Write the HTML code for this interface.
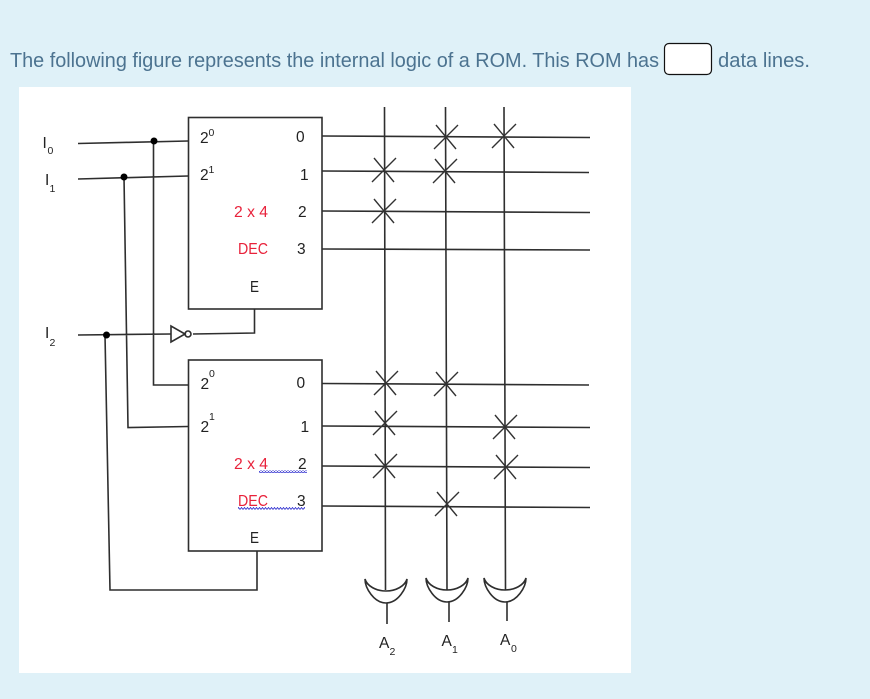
<!DOCTYPE html>
<html><head><meta charset="utf-8"><style>
html,body{margin:0;padding:0;width:870px;height:699px;overflow:hidden;background:#dff1f8}
svg{display:block}
.d text{font-family:"Liberation Sans",sans-serif;font-size:15.5px;fill:#222}
.d .r{fill:#e8213a}
.d .s{font-size:10.5px}
.l{fill:none;stroke:#2e2e2e;stroke-width:1.6}
.x{fill:none;stroke:#333;stroke-width:1.4}
.t{font-family:"Liberation Sans",sans-serif;font-size:20.5px;fill:#4c7390}
</style></head><body>
<svg width="870" height="699" viewBox="0 0 870 699" xmlns="http://www.w3.org/2000/svg">
<defs>
<pattern id="z" width="3" height="3" patternUnits="userSpaceOnUse"><path d="M0 2.5L1.5 .5L3 2.5" fill="none" stroke="#2222cc" stroke-width=".8"/></pattern>
<g id="c"><path class="x" d="M-12 12L12 -12M-10 -12L10 12"/></g>
<path id="o" class="l" d="M-21 0C-19 7-10 12 0 12C10 12 19 7 21 0C21 9 12 24 0 24C-12 24-21 9-21 0Z"/>
<filter id="b" x="0" y="0" width="100%" height="100%"><feGaussianBlur stdDeviation="0.3"/></filter>
</defs>
<text class="t" x="10" y="67" textLength="649" lengthAdjust="spacingAndGlyphs">The following figure represents the internal logic of a ROM. This ROM has</text>
<rect x="664.5" y="43.5" width="47" height="31" rx="4.5" fill="#fff" stroke="#111" stroke-width="1.2"/>
<text class="t" x="718" y="67" textLength="92" lengthAdjust="spacingAndGlyphs">data lines.</text>
<rect x="19" y="87" width="612" height="586" fill="#fff"/>
<g class="d" filter="url(#b)">
<rect class="l" x="188.5" y="117.5" width="133.5" height="191.5"/>
<rect class="l" x="188.5" y="360" width="133.5" height="191"/>
<path class="l" d="M78 143.500L188 141M78 179L188 176M78 335L171 334M153.500 141V385H188M124 177L128 427.500L188 426.500M105 335L110 590H257V551"/>
<path class="l" d="M193 334L254.500 333V309"/>
<path class="l" d="M171 326V342L185 334Z"/><circle class="l" cx="188" cy="334" r="3" fill="#fff"/>
<circle cx="154" cy="141" r="3.500" fill="#000"/><circle cx="124" cy="177" r="3.500" fill="#000"/><circle cx="106.500" cy="335" r="3.500" fill="#000"/>
<path class="l" d="M322 136L590 137.500M322 171L589 172.500M322 211L590 212.500M322 249L590 250M322 383.500L589 385M322 426L590 427.500M322 466L590 467.500M322 506L590 507.500"/>
<path class="l" d="M384.500 107L385.500 590M445.500 107L447 590M504 107L505.500 590"/>
<use href="#c" x="446" y="137"/><use href="#c" x="504" y="136"/><use href="#c" x="384" y="170"/><use href="#c" x="445" y="171"/><use href="#c" x="384" y="211"/>
<use href="#c" x="386" y="383"/><use href="#c" x="446" y="384"/><use href="#c" x="385" y="423"/><use href="#c" x="505" y="427"/><use href="#c" x="385" y="466"/><use href="#c" x="506" y="467"/><use href="#c" x="447" y="504"/>
<use href="#o" x="386" y="579"/><use href="#o" x="447" y="578"/><use href="#o" x="505" y="578"/>
<path class="l" d="M387 603V624M449 602V622M507 602V621"/>
<rect x="259" y="470" width="48" height="3" fill="url(#z)"/><rect x="238" y="507" width="67" height="3" fill="url(#z)"/>

<text x="42.500" y="148">I</text><text class="s" x="47.500" y="154">0</text>
<text x="45" y="185">I</text><text class="s" x="49.500" y="192">1</text>
<text x="45" y="338">I</text><text class="s" x="49.500" y="346">2</text>

<text x="200" y="143">2</text><text class="s" x="208.500" y="136">0</text>
<text x="200" y="180">2</text><text class="s" x="208.500" y="173">1</text>
<text x="296" y="142">0</text><text x="300" y="180">1</text><text x="298" y="217">2</text><text x="297" y="254">3</text>
<text class="r" x="234" y="217" textLength="34" lengthAdjust="spacingAndGlyphs">2 x 4</text><text class="r" x="238" y="254" textLength="30" lengthAdjust="spacingAndGlyphs">DEC</text>
<text x="250" y="292" textLength="9" lengthAdjust="spacingAndGlyphs">E</text>

<text x="200.500" y="389">2</text><text class="s" x="209" y="377">0</text>
<text x="200.500" y="432">2</text><text class="s" x="209" y="420">1</text>
<text x="296.500" y="388">0</text><text x="300.500" y="432">1</text><text x="298" y="469">2</text><text x="297" y="506">3</text>
<text class="r" x="234" y="469" textLength="34" lengthAdjust="spacingAndGlyphs">2 x 4</text><text class="r" x="238" y="506" textLength="30" lengthAdjust="spacingAndGlyphs">DEC</text>
<text x="250" y="543" textLength="9" lengthAdjust="spacingAndGlyphs">E</text>

<text x="379" y="648">A</text><text class="s" x="389.500" y="655">2</text>
<text x="441.500" y="646">A</text><text class="s" x="452" y="653">1</text>
<text x="500" y="645">A</text><text class="s" x="511" y="652">0</text>
</g>
</svg>
</body></html>
